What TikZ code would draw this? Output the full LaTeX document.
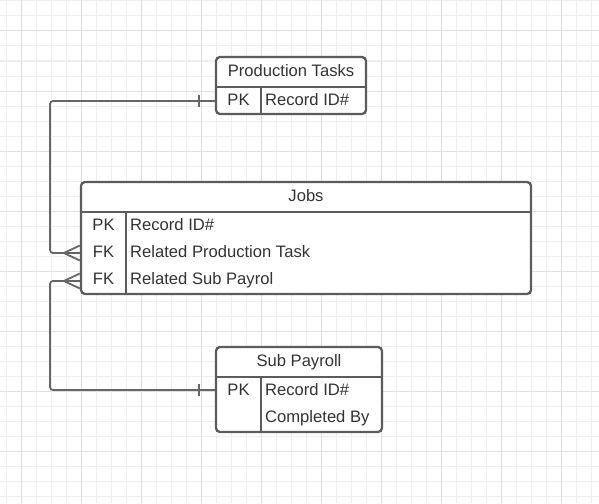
\documentclass[tikz,border=0pt]{standalone}
\usepackage{fontspec}
\setmainfont{Liberation Sans}
\usetikzlibrary{calc}
\definecolor{boxline}{HTML}{5C5C5C}
\definecolor{connline}{HTML}{666666}
\definecolor{txt}{HTML}{333333}
\definecolor{gridminor}{HTML}{EEEEEE}
\definecolor{gridmajor}{HTML}{E0E0E0}
\begin{document}
\begin{tikzpicture}[x=1pt,y=-1pt,
  entity/.style={draw=boxline,line width=2.3pt,rounded corners=4pt,fill=white,inner sep=0pt},
  divider/.style={draw=boxline,line width=2.3pt},
  coldiv/.style={draw=boxline,line width=2pt},
  lbl/.style={font=\fontsize{16.6}{19}\selectfont,text=txt,inner sep=0pt,anchor=base},
  lblw/.style={lbl,anchor=base west},
  conn/.style={draw=connline,line width=1.8pt},
  minorg/.style={draw=gridminor,line width=1pt},
  majorg/.style={draw=gridmajor,line width=1pt}]
\fill[white] (0,0) rectangle (599,503);
\useasboundingbox (0,0) rectangle (599,503);
% grid
\foreach \x in {6.7,21.7,...,599} \draw[minorg] (\x,0) -- (\x,503);
\foreach \y in {1,16,...,503} \draw[minorg] (0,\y) -- (599,\y);
\foreach \x in {21.7,81.7,...,599} \draw[majorg] (\x,0) -- (\x,503);
\foreach \y in {31,91,...,503} \draw[majorg] (0,\y) -- (599,\y);

% Production Tasks
\node[entity,minimum width=150pt,minimum height=57pt] (pt) at (291,85.5) {};
\draw[divider] (pt.west |- 0,87) -- (pt.east |- 0,87);
\draw[coldiv] (261,87) -- (261,0 |- pt.south);
\node[lbl] (pttitle) at (291,76) {Production Tasks};
\node[lbl] (ptpk) at (238.5,105) {PK};
\node[lblw] (ptrec) at (265,105) {Record ID\#};

% Jobs
\node[entity,minimum width=450pt,minimum height=112pt] (jobs) at (306,238) {};
\draw[divider] (jobs.west |- 0,212) -- (jobs.east |- 0,212);
\draw[coldiv] (126,212) -- (126,0 |- jobs.south);
\node[lbl] (jtitle) at (306,201) {Jobs};
\node[lbl] (jpk) at (103.5,230) {PK};
\node[lblw] (jrec) at (130,230) {Record ID\#};
\node[lbl] (jfk1) at (103.5,257) {FK};
\node[lblw] (jrel1) at (130,257) {Related Production Task};
\node[lbl] (jfk2) at (103.5,284) {FK};
\node[lblw] (jrel2) at (130,284) {Related Sub Payrol};

% Sub Payroll
\node[entity,minimum width=166pt,minimum height=85pt] (sp) at (299,389.5) {};
\draw[divider] (sp.west |- 0,377) -- (sp.east |- 0,377);
\draw[coldiv] (261,377) -- (261,0 |- sp.south);
\node[lbl] (sptitle) at (299,366) {Sub Payroll};
\node[lbl] (sppk) at (238.5,395) {PK};
\node[lblw] (sprec) at (265,395) {Record ID\#};
\node[lblw] (spcomp) at (265,422) {Completed By};

% ports
\coordinate (ptport) at (pt.west |- 0,101);
\coordinate (spport) at (sp.west |- 0,390);
\coordinate (jport1) at (jobs.west |- 0,253);
\coordinate (jport2) at (jobs.west |- 0,281);

% connector 1: Production Tasks -> Jobs
\draw[conn,rounded corners=3pt] (ptport) -| (50,180) |- (jport1);
\draw[conn] ($(ptport)+(-16,-6)$) -- ++(0,12);
\draw[conn] ($(jport1)+(-16,0)$) -- ++(16,-7.5);
\draw[conn] ($(jport1)+(-16,0)$) -- ++(16,7.5);

% connector 2: Sub Payroll -> Jobs
\draw[conn,rounded corners=3pt] (spport) -| (50,330) |- (jport2);
\draw[conn] ($(spport)+(-16,-6)$) -- ++(0,12);
\draw[conn] ($(jport2)+(-16,0)$) -- ++(16,-7.5);
\draw[conn] ($(jport2)+(-16,0)$) -- ++(16,7.5);
\end{tikzpicture}
\end{document}
